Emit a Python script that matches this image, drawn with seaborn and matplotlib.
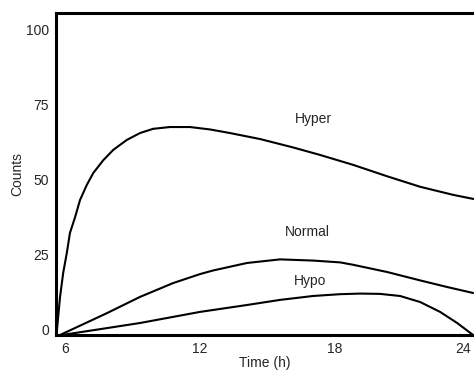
import matplotlib
matplotlib.use('Agg')
import matplotlib.pyplot as plt
from matplotlib.transforms import ScaledTranslation
import seaborn as sns
import pandas as pd

# values
hyper_time = [5.6, 5.63, 5.78, 5.92, 6.08, 6.22, 6.45, 6.67, 6.97, 7.26, 7.71, 8.15,
              8.75, 9.34, 9.92, 10.67, 11.56, 12.45, 13.34, 14.68, 16.15, 17.35,
              18.82, 20.33, 21.8, 23.27, 24.2]
hyper_counts = [0, 0.7, 12.7, 20.7, 27.3, 34.0, 39.3, 45.0, 50.0, 54.0, 58.3, 61.7,
                65.0, 67.3, 68.7, 69.3, 69.3, 68.5, 67.3, 65.3, 62.5, 60.0,
                56.7, 52.9, 49.4, 46.7, 45.3]

normal_time = [5.78, 7.87, 9.34, 10.81, 12.01, 12.59, 14.1, 15.57, 17.04, 18.24,
               18.82, 20.33, 21.8, 23.0, 24.16]
normal_counts = [0, 7.3, 12.7, 17.3, 20.3, 21.5, 24.0, 25.2, 24.8, 24.2,
                 23.4, 21.0, 18.2, 16.0, 14.0]

hypo_time = [5.87, 9.34, 12.01, 14.1, 15.57, 17.04, 18.24, 19.13, 20.02, 20.91,
             21.8, 22.69, 23.45, 24.16]
hypo_counts = [0, 4.0, 7.7, 10.0, 11.7, 13.0, 13.6, 13.8, 13.7, 13.0,
               11.0, 7.7, 4.0, 0]

labels = ['Hyper', 'Normal', 'Hypo']
label_pos = [(17.04, 72.0), (16.77, 34.3), (16.9, 18.0)]

x_ticks = [6, 12, 18, 24]
y_ticks = [0, 25, 50, 75, 100]

sns.set_style('white')
plt.rcParams['font.family'] = ['Liberation Sans', 'DejaVu Sans']
plt.rcParams['font.size'] = 10

df = pd.concat([
    pd.DataFrame({'Time (h)': hyper_time, 'Counts': hyper_counts, 'group': 'Hyper'}),
    pd.DataFrame({'Time (h)': normal_time, 'Counts': normal_counts, 'group': 'Normal'}),
    pd.DataFrame({'Time (h)': hypo_time, 'Counts': hypo_counts, 'group': 'Hypo'}),
])

fig = plt.figure(figsize=(4.74, 3.72), dpi=100)
ax = fig.add_axes([56 / 474, 37 / 372, 418 / 474, 322 / 372])

for name in labels:
    sub = df[df['group'] == name]
    sns.lineplot(data=sub, x='Time (h)', y='Counts', color='black', linewidth=1.5,
                 estimator=None, sort=False, solid_joinstyle='round', ax=ax)

for name, (tx, ty) in zip(labels, label_pos):
    ax.text(tx, ty, name, ha='center', va='center', fontsize=10)

ax.set_xlim(5.6, 24.2)
ax.set_ylim(0, 107.3)
ax.set_xticks(x_ticks)
ax.set_yticks(y_ticks)
ax.tick_params(length=0, pad=5, labelsize=10)

for label in ax.get_yticklabels():
    label.set_transform(label.get_transform() + ScaledTranslation(0, 4 / 72, fig.dpi_scale_trans))

# last x label sits against the right edge of the figure
last = ax.get_xticklabels()[-1]
last.set_transform(last.get_transform() + ScaledTranslation(-6 / 100, 0, fig.dpi_scale_trans))

ax.set_xlabel('Time (h)', fontsize=10, labelpad=0)
ax.set_ylabel('Counts', fontsize=10, labelpad=1)

ax.spines['right'].set_visible(False)
for side in ['left', 'top', 'bottom']:
    ax.spines[side].set_linewidth(2.2)
    ax.spines[side].set_color('black')

plt.savefig('out.png', dpi=100)
